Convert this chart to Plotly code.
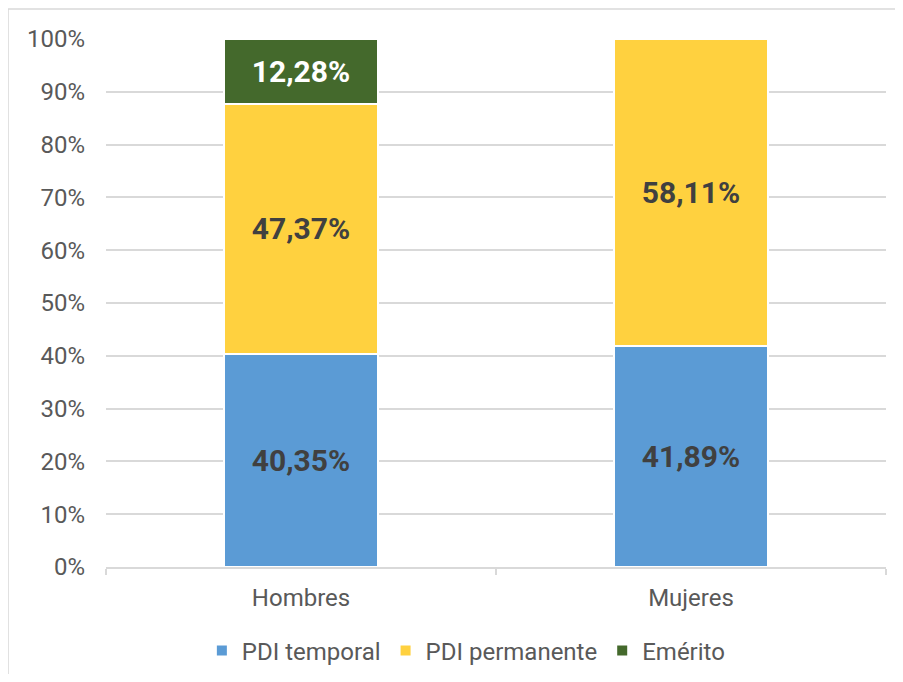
import plotly.graph_objects as go

categorias = ["Hombres", "Mujeres"]
pdi_temporal = [40.35, 41.89]
pdi_permanente = [47.37, 58.11]
emerito = [12.28, None]

series = [
    ("PDI temporal", pdi_temporal, "#5B9BD5", "#404040"),
    ("PDI permanente", pdi_permanente, "#FFD13F", "#404040"),
    ("Emérito", emerito, "#44692C", "#FFFFFF"),
]

fig = go.Figure()
for nombre, valores, color, color_texto in series:
    fig.add_trace(go.Bar(
        x=categorias,
        y=valores,
        name=nombre,
        marker=dict(color=color, line=dict(color="white", width=2)),
        texttemplate="%{y:.2f}%",
        textposition="inside",
        insidetextanchor="middle",
        textangle=0,
        textfont=dict(family="Roboto", size=30, color=color_texto, weight="bold"),
    ))

fig.update_layout(
    width=887, height=666,
    barmode="stack",
    bargap=0.605,
    separators=",.",
    plot_bgcolor="white",
    paper_bgcolor="white",
    font=dict(family="Roboto", size=24, color="#595959"),
    margin=dict(l=98, r=9, t=31, b=107, autoexpand=False),
    legend=dict(orientation="h", x=0.462, xanchor="center", y=-0.159, yanchor="middle",
                font=dict(size=24, color="#595959"), traceorder="normal",
                itemwidth=30),
    uniformtext=dict(mode=False),
    shapes=[dict(type="rect", xref="paper", yref="paper",
                 x0=-0.1256, x1=1.06, y0=-0.214, y1=1.0568,
                 line=dict(color="#D9D9D9", width=1.5))],
)

fig.update_yaxes(range=[0, 100], dtick=10, ticksuffix="%", showgrid=True,
                 gridcolor="#D9D9D9", gridwidth=1.5, zeroline=False,
                 ticks="", ticklabelstandoff=20,
                 tickfont=dict(size=24, color="#595959"))
fig.update_xaxes(showline=True, linecolor="#D9D9D9", linewidth=1.5,
                 ticks="outside", tickson="boundaries", ticklen=6,
                 tickcolor="#D9D9D9", tickwidth=1.5, ticklabelstandoff=8,
                 tickfont=dict(size=24, color="#595959"))

fig.write_html("out.html")
